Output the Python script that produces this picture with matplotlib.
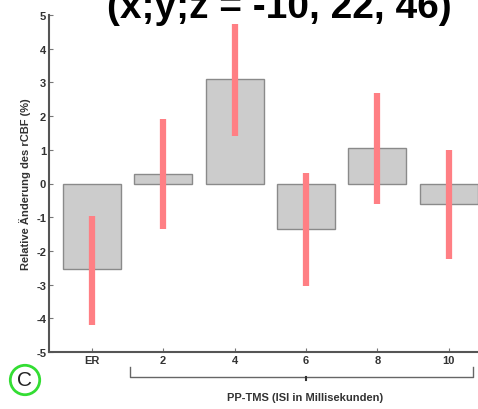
import numpy as np
import matplotlib.pyplot as plt
from matplotlib.transforms import blended_transform_factory

# Daten
kategorien = ['ER', '2', '4', '6', '8', '10']
mittel = [-2.55, 0.28, 3.1, -1.35, 1.05, -0.6]
fehler_oben = [-0.95, 1.9, 4.72, 0.3, 2.7, 1.0]
fehler_unten = [-4.2, -1.35, 1.4, -3.05, -0.62, -2.25]
titel = '(x;y;z = -10, 22, 46)'

plt.rcParams['font.family'] = ['Liberation Sans', 'DejaVu Sans']
plt.rcParams['axes.unicode_minus'] = False

fig = plt.figure(figsize=(4.78, 4.10), dpi=100)
ax = fig.add_axes([49/478, 57/410, 429/478, 337/410])

x = np.arange(len(kategorien))
ax.bar(x, mittel, width=0.81, color='#cccccc', edgecolor='#8a8a8a', linewidth=1)
ax.vlines(x, fehler_unten, fehler_oben, color='#ff7f84', linewidth=4.5)

ax.set_xlim(-0.6, 5.41)
ax.set_ylim(-5, 5)
ax.set_yticks(range(-5, 6))
ax.set_xticks(x)
ax.set_xticklabels(kategorien)
for s in ['top', 'right']:
    ax.spines[s].set_visible(False)
for s in ['left', 'bottom']:
    ax.spines[s].set_color('#555555')
    ax.spines[s].set_linewidth(1.5)
ax.tick_params(direction='in', length=3, color='#777777', labelsize=8, pad=2)
for lab in ax.get_xticklabels() + ax.get_yticklabels():
    lab.set_fontweight('bold')
    lab.set_color('#333333')
ax.set_ylabel('Relative Änderung des rCBF (%)', fontsize=8, fontweight='bold',
              color='#333333', labelpad=4)

# Klammer unter 2..10
tr = blended_transform_factory(ax.transData, ax.transAxes)
x0, x1 = 0.53, 5.34
ax.plot([x0, x0, x1, x1], [-0.045, -0.074, -0.074, -0.045], color='#666666',
        lw=1, transform=tr, clip_on=False)
ax.plot([3, 3], [-0.074, -0.084], color='#333333', lw=1.5, transform=tr, clip_on=False)

fig.text(305/478, 1 - 398/410, 'PP-TMS (ISI in Millisekunden)', ha='center', va='center',
         fontsize=8, fontweight='bold', color='#333333')
fig.text(279/478, 1 - 18/410, titel, ha='center', va='baseline', fontsize=28,
         fontweight='bold', color='black')
fig.text(25/478, 1 - 381/410, 'C', ha='center', va='center', fontsize=15, color='#222222',
         bbox=dict(boxstyle='circle,pad=0.25', fc='white', ec='#33dd33', lw=2))

fig.savefig('out.png', dpi=100)
